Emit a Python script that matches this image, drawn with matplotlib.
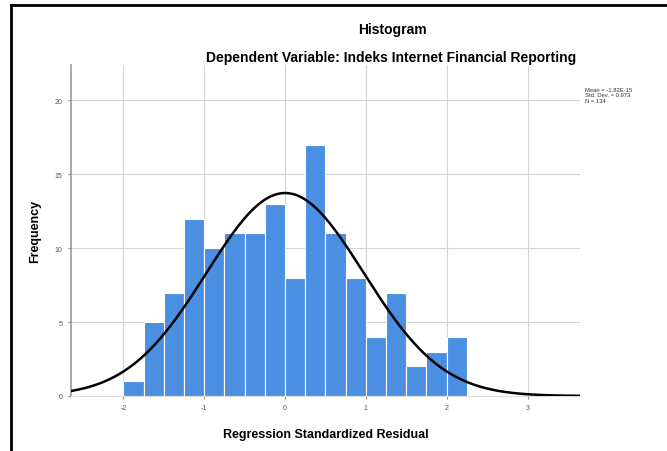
import numpy as np
import matplotlib.pyplot as plt
from matplotlib.lines import Line2D

plt.rcParams['font.family'] = ['Liberation Sans', 'DejaVu Sans']
plt.rcParams['axes.unicode_minus'] = False

# Гистограмма стандартизованных остатков (шаг 0.25)
bin_left = -2.0
bin_width = 0.25
counts = [1, 5, 7, 12, 10, 11, 11, 13, 8, 17, 11, 8, 4, 7, 2, 3, 4]

mean = -1.82e-15
std = 0.973
n = 134
stats_text = "Mean = -1.82E-15\nStd. Dev. = 0.973\nN = 134"

x_ticks = [-2, -1, 0, 1, 2, 3]
y_ticks = [0, 5, 10, 15, 20]

fig = plt.figure(figsize=(6.67, 4.52), dpi=100)
ax = fig.add_axes([0.1064, 0.1217, 0.7632, 0.7323])

edges = bin_left + bin_width * np.arange(len(counts) + 1)
ax.bar(edges[:-1], counts, width=bin_width, align='edge',
       color='#4a8fe2', edgecolor='white', linewidth=0.8, zorder=2)

# Нормальная кривая, масштабированная на N и ширину интервала
xs = np.linspace(-2.65, 3.65, 400)
ys = n * bin_width / (std * np.sqrt(2 * np.pi)) * np.exp(-0.5 * ((xs - mean) / std) ** 2)
ax.plot(xs, ys, color='black', linewidth=1.8, zorder=3)

ax.set_xlim(-2.65, 3.65)
ax.set_ylim(0, 22.4)
ax.set_xticks(x_ticks)
ax.set_yticks(y_ticks)
ax.tick_params(labelsize=5, colors='#555555', length=2, width=0.5, pad=4)
ax.grid(True, color='#d4d4d4', linewidth=0.8, zorder=0)
ax.set_axisbelow(True)
for side in ['top', 'right']:
    ax.spines[side].set_visible(False)
ax.spines['left'].set_color('#999999')
ax.spines['left'].set_linewidth(1.2)
ax.spines['bottom'].set_color('#dddddd')

ax.set_xlabel('Regression Standardized Residual', fontsize=9, fontweight='bold', labelpad=12)
ax.set_ylabel('Frequency', fontsize=9, fontweight='bold', labelpad=10)

fig.text(0.588, 0.934, 'Histogram', ha='center', va='center', fontsize=10, fontweight='bold')
fig.text(0.586, 0.872, 'Dependent Variable: Indeks Internet Financial Reporting',
         ha='center', va='center', fontsize=10, fontweight='bold')
fig.text(0.877, 0.788, stats_text, ha='left', va='center', fontsize=4.2,
         color='#333333', linespacing=1.1)

# Рамка вокруг рисунка
fig.add_artist(Line2D([11 / 667, 11 / 667], [0, 1 - 6 / 452], transform=fig.transFigure,
                      color='black', linewidth=2))
fig.add_artist(Line2D([11 / 667, 1], [1 - 6 / 452, 1 - 6 / 452], transform=fig.transFigure,
                      color='black', linewidth=2))

fig.savefig('out.png', dpi=100)
